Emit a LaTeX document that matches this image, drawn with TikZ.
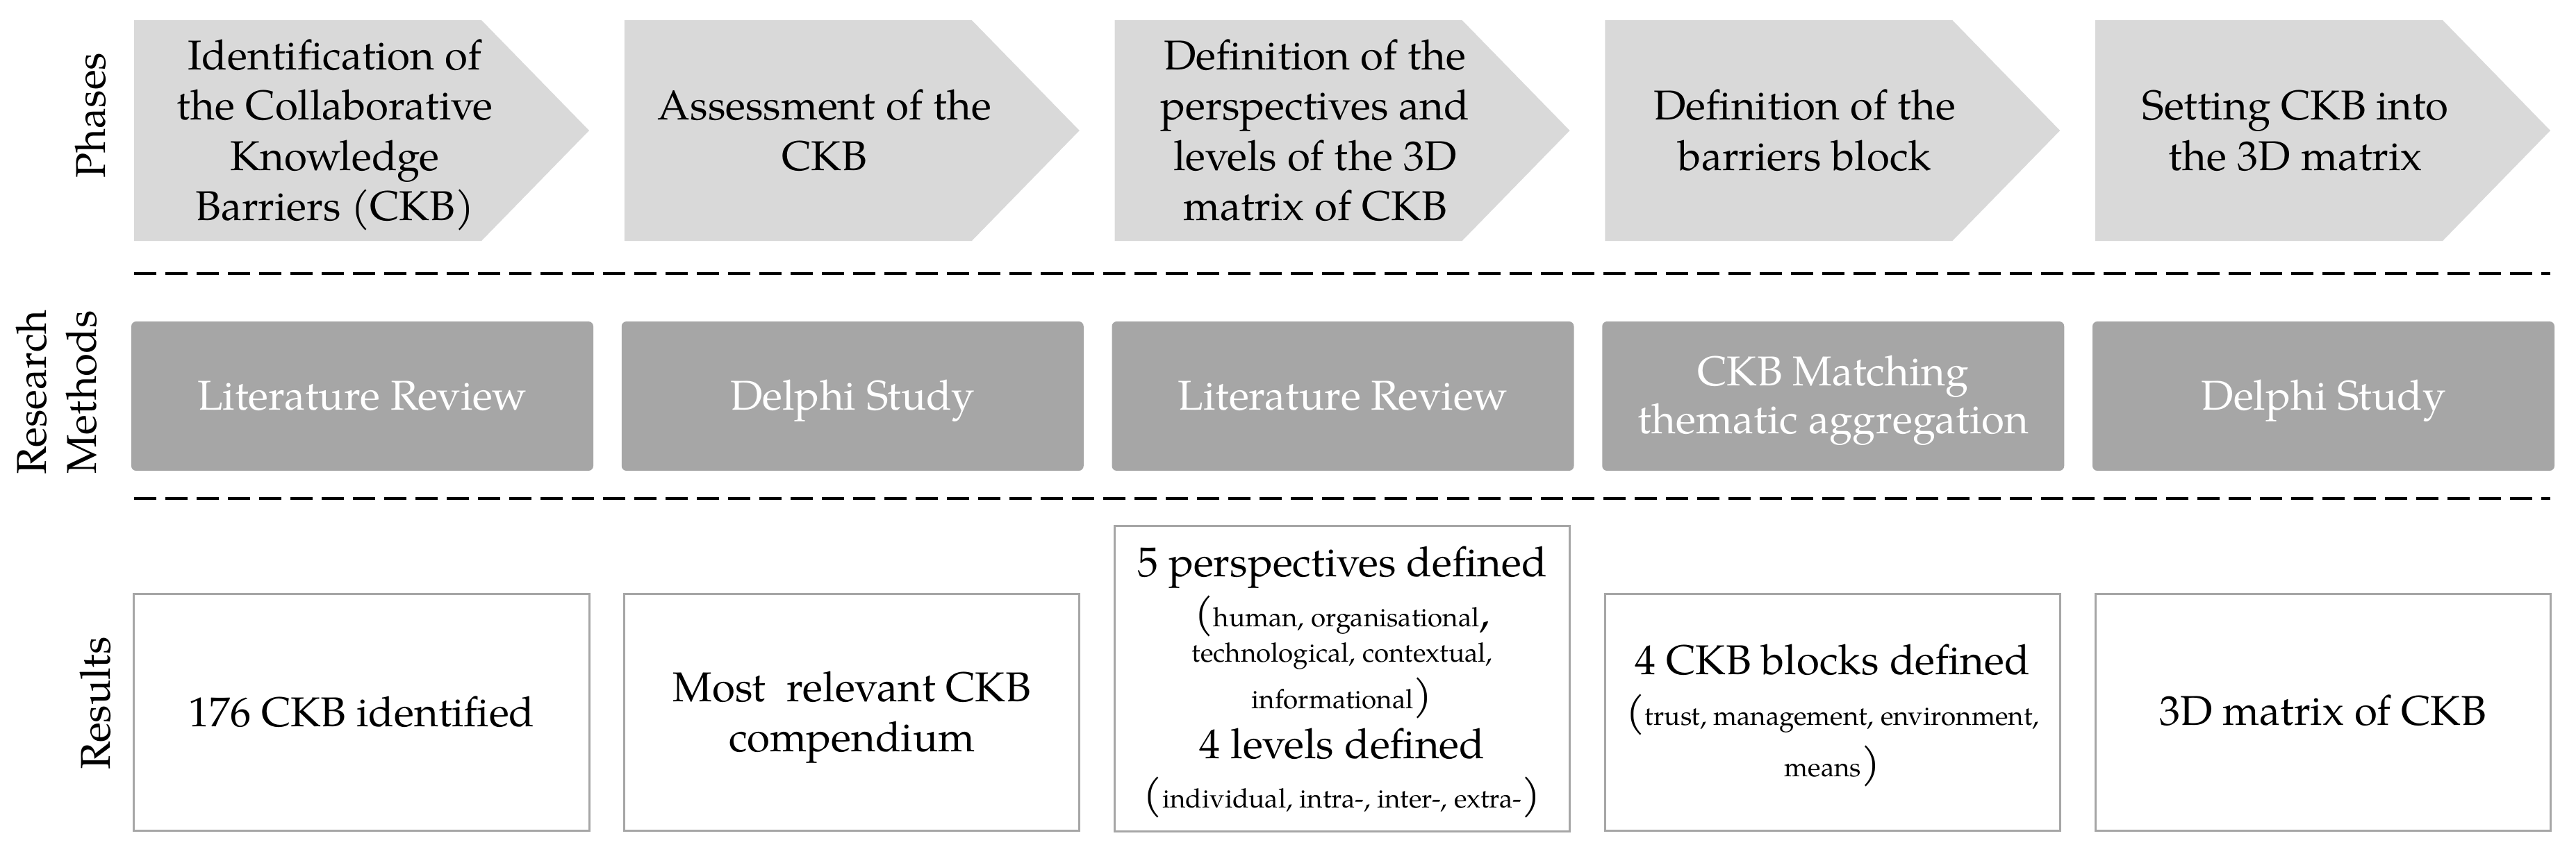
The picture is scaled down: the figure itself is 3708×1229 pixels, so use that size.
\documentclass[tikz,border=0pt]{standalone}
\usepackage{fontspec}
\setmainfont{TeX Gyre Pagella}
\definecolor{phasefill}{HTML}{D9D9D9}
\definecolor{methfill}{HTML}{A6A6A6}
\definecolor{resline}{HTML}{A6A6A6}
\newcommand\smtxt{\fontsize{7.7}{9}\selectfont}
\tikzset{
  phasearrow/.style={fill=phasefill, draw=none},
  phasetext/.style={align=center, inner sep=0pt, font=\fontsize{12}{14.5}\selectfont},
  methbox/.style={fill=methfill, draw=none, rounded corners=1.4pt, minimum width=133pt, minimum height=43pt, inner sep=0pt},
  methtext/.style={text=white, inner sep=0pt, align=center, font=\fontsize{12}{13.8}\selectfont},
  resbox/.style={draw=resline, line width=0.6pt, fill=white, minimum width=131pt, minimum height=68.2pt, inner sep=0pt},
  restext/.style={inner sep=0pt, align=center, font=\fontsize{12}{14.4}\selectfont},
  rowlabel/.style={rotate=90, anchor=base, inner sep=0pt, font=\fontsize{12}{14.4}\selectfont},
  sepline/.style={draw=black, line width=0.8pt, dash pattern=on 6.4pt off 2.6pt},
}
\begin{document}
\begin{tikzpicture}[x=0.2pt, y=-0.2pt]
\useasboundingbox (0,0) rectangle (3708,1229);

% phase arrows
\foreach \i in {0,...,4} {
  \pgfmathsetmacro\L{193+705.75*\i}
  \fill[phasearrow] (\L,29) -- ++(500,0) -- ++(155,159) -- ++(-155,159) -- ++(-500,0) -- cycle;
}
\node[phasetext] (ph1) at (482,194.5) {\strut Identification of\\\strut the Collaborative\\\strut Knowledge\\\strut Barriers (CKB)};
\node[phasetext] (ph2) at (1187,194.5) {\strut Assessment of the\\\strut CKB};
\node[phasetext] (ph3) at (1893,194.5) {\strut Definition of the\\\strut perspectives and\\\strut levels of the 3D\\\strut matrix of CKB};
\node[phasetext] (ph4) at (2598,194.5) {\strut Definition of the\\\strut barriers block};
\node[phasetext] (ph5) at (3304,194.5) {\strut Setting CKB into\\\strut the 3D matrix};

% separators
\coordinate (d1s) at (193,394);
\coordinate (d1e) at (3671,394);
\coordinate (d2s) at (193,718);
\coordinate (d2e) at (3671,718);
\draw[sepline] (d1s) -- (d1e);
\draw[sepline] (d2s) -- (d2e);

% research methods
\node[methbox] (m1) at (521.5,570.5) {};
\node[methbox] (m2) at (1227.25,570.5) {};
\node[methbox] (m3) at (1933,570.5) {};
\node[methbox] (m4) at (2638.75,570.5) {};
\node[methbox] (m5) at (3344.5,570.5) {};
\node[methtext, anchor=base] (mt1) at (521.5,590) {Literature Review};
\node[methtext, anchor=base] (mt2) at (1227.25,590) {Delphi Study};
\node[methtext, anchor=base] (mt3) at (1933,590) {Literature Review};
\node[methtext] (mt4) at (2638.75,575.7) {\strut CKB Matching\\\strut thematic aggregation};
\node[methtext, anchor=base] (mt5) at (3344.5,590) {Delphi Study};

% results
\node[resbox] (r1) at (520.5,1025.5) {};
\node[resbox] (r2) at (1226.25,1025.5) {};
\node[resbox, minimum height=88pt] (r3) at (1932,977) {};
\node[resbox] (r4) at (2637.75,1025.5) {};
\node[resbox] (r5) at (3343.5,1025.5) {};

\node[restext, anchor=base] (rt1) at (520.5,1046) {176 CKB identified};
\node[restext] (rt2) at (1226.25,1031.6) {\strut Most\ \ relevant CKB\\\strut compendium};

\node[restext, anchor=base] (rt3a) at (1932,830) {5 perspectives defined};
\node[restext, anchor=base] (rt3b) at (1932,902) {({\smtxt human, organisational},};
\node[restext, anchor=base] (rt3c) at (1932,953) {{\smtxt technological, contextual,}};
\node[restext, anchor=base] (rt3d) at (1932,1020) {{\smtxt informational})};
\node[restext, anchor=base] (rt3e) at (1932,1092) {4 levels defined};
\node[restext, anchor=base] (rt3f) at (1932,1163) {({\smtxt individual, intra-, inter-, extra-})};

\node[restext, anchor=base] (rt4a) at (2637.75,971) {4 CKB blocks defined};
\node[restext, anchor=base] (rt4b) at (2637.75,1044) {({\smtxt trust, management, environment,}};
\node[restext, anchor=base] (rt4c) at (2637.75,1118) {{\smtxt means})};

\node[restext, anchor=base] (rt5) at (3343.5,1044) {3D matrix of CKB};

% row labels
\node[rowlabel] (lphases) at (152,166) {Phases};
\node[rowlabel] (lres1) at (66,565) {Research};
\node[rowlabel] (lres2) at (138,565) {Methods};
\node[rowlabel] (lresults) at (158,1013) {Results};
\end{tikzpicture}
\end{document}
